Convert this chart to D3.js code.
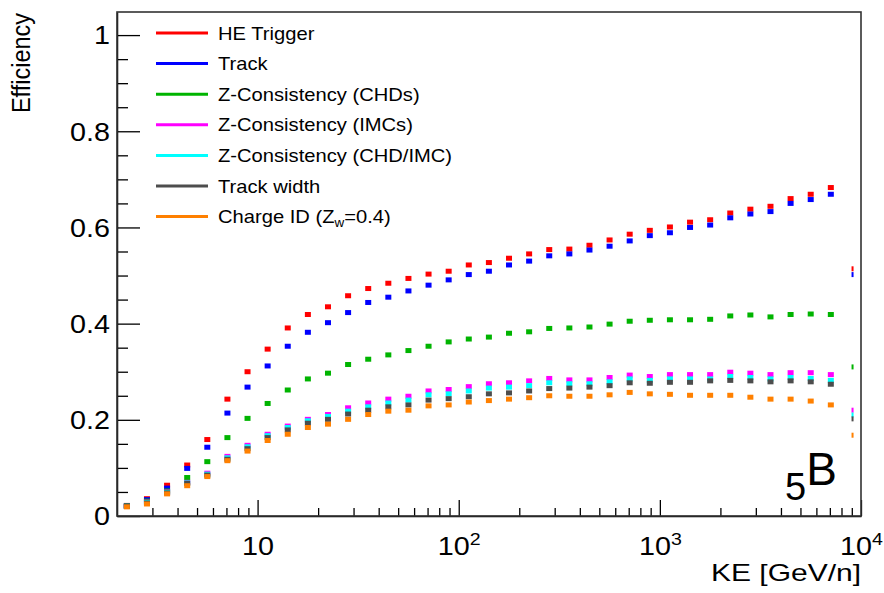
<!DOCTYPE html>
<html><head><meta charset="utf-8">
<script src="https://cdn.jsdelivr.net/npm/d3@7"></script>
<style>body{margin:0;background:#fff}svg{display:block}text{font-family:"Liberation Sans",Arial,Helvetica,sans-serif;fill:#000}</style>
</head><body><svg id="c" width="884" height="593"></svg>
<script>
// bin centres, log10(KE [GeV/n])
const logKE = [0.35,0.45,0.55,0.65,0.75,0.85,0.95,1.05,1.15,1.25,1.35,1.45,1.55,1.65,1.75,1.85,1.95,2.05,2.15,2.25,2.35,2.45,2.55,2.65,2.75,2.85,2.95,3.05,3.15,3.25,3.35,3.45,3.55,3.65,3.75,3.85,3.95];

const heTrigger = [0.022,0.036,0.064,0.106,0.159,0.243,0.300,0.347,0.391,0.419,0.435,0.458,0.473,0.484,0.494,0.503,0.509,0.522,0.527,0.536,0.545,0.554,0.555,0.563,0.574,0.586,0.594,0.601,0.611,0.616,0.630,0.638,0.644,0.660,0.669,0.683,0.514];
const track = [0.021,0.034,0.058,0.099,0.143,0.214,0.268,0.312,0.353,0.382,0.402,0.423,0.444,0.455,0.468,0.480,0.491,0.502,0.509,0.522,0.530,0.541,0.545,0.553,0.561,0.572,0.583,0.589,0.600,0.605,0.620,0.628,0.633,0.650,0.658,0.669,0.502];
const zConsCHD = [0.021,0.031,0.052,0.080,0.113,0.163,0.203,0.234,0.262,0.285,0.297,0.315,0.326,0.335,0.344,0.353,0.362,0.368,0.372,0.380,0.383,0.390,0.391,0.393,0.399,0.405,0.407,0.408,0.408,0.409,0.416,0.418,0.414,0.419,0.420,0.419,0.310];
const zConsIMC = [0.020,0.029,0.050,0.070,0.089,0.124,0.147,0.170,0.187,0.201,0.211,0.225,0.235,0.243,0.249,0.260,0.263,0.269,0.275,0.277,0.281,0.286,0.283,0.283,0.288,0.293,0.290,0.294,0.294,0.294,0.299,0.297,0.294,0.298,0.298,0.294,0.220];
const zConsCHDIMC = [0.020,0.028,0.049,0.069,0.087,0.121,0.144,0.167,0.184,0.198,0.207,0.218,0.227,0.235,0.241,0.252,0.254,0.260,0.266,0.268,0.271,0.277,0.275,0.275,0.279,0.285,0.282,0.285,0.285,0.285,0.290,0.288,0.285,0.288,0.286,0.282,0.210];
const trackWidth = [0.020,0.027,0.048,0.068,0.085,0.118,0.140,0.163,0.179,0.193,0.201,0.212,0.220,0.227,0.231,0.241,0.244,0.248,0.254,0.256,0.260,0.265,0.266,0.268,0.271,0.277,0.276,0.278,0.278,0.281,0.282,0.281,0.279,0.281,0.279,0.274,0.202];
const chargeID = [0.019,0.025,0.046,0.063,0.082,0.115,0.135,0.157,0.170,0.184,0.191,0.201,0.211,0.218,0.220,0.229,0.231,0.237,0.240,0.243,0.246,0.250,0.249,0.249,0.252,0.257,0.254,0.253,0.251,0.251,0.251,0.247,0.243,0.243,0.239,0.231,0.168];

const seriesNames = ["HE Trigger","Track","Z-Consistency (CHDs)","Z-Consistency (IMCs)","Z-Consistency (CHD/IMC)","Track width","Charge ID"];
const seriesColors = ["#ff0000","#0000ff","#00b400","#ff00ff","#00ffff","#4d4d4d","#ff8000"];
const seriesValues = [heTrigger, track, zConsCHD, zConsIMC, zConsCHDIMC, trackWidth, chargeID];

const yMajorTicks = [0,0.2,0.4,0.6,0.8,1];
const yTickLabels = ["0","0.2","0.4","0.6","0.8","1"];
const xMajorTicks = [10,100,1000,10000];
const xTickExponents = ["","2","3","4"];
const xTitle = "KE [GeV/n]";
const yTitle = "Efficiency";

const W = 884, H = 593;
const L = 117, R = 861, T = 12, B = 516;
const svg = d3.select("#c");
const xs = d3.scaleLog().domain([2, 1e4]).range([L, R]);
const ys = d3.scaleLinear().domain([0, 1.048]).range([B, T]);

// clip
svg.append("defs").append("clipPath").attr("id","clip")
  .append("rect").attr("x",L).attr("y",T).attr("width",R-L).attr("height",B-T);

// markers
const mw = 6, mh = 5;
const plot = svg.append("g").attr("clip-path","url(#clip)");
seriesValues.forEach((vals, si) => {
  const g = plot.append("g");
  vals.forEach((v, i) => {
    const cx = xs(Math.pow(10, logKE[i])), cy = ys(v);
    const last = i === vals.length - 1;
    g.append("rect")
      .attr("x", last ? cx + 0.6 : cx - mw/2)
      .attr("y", cy - mh/2)
      .attr("width", last ? 2 : mw)
      .attr("height", mh)
      .attr("fill", seriesColors[si]);
  });
});

// axes
const yMinor = d3.range(1, 22).map(k => k*0.05).filter(v => Math.abs(v*5 - Math.round(v*5)) > 1e-6 && v <= 1.048);
const gy = svg.append("g").attr("transform", `translate(${L},0)`);
gy.call(d3.axisLeft(ys).tickValues(yMajorTicks).tickSize(-23).tickSizeOuter(0).tickFormat(""));
gy.append("g").call(d3.axisLeft(ys).tickValues(yMinor).tickSize(-11).tickSizeOuter(0).tickFormat(""))
  .select(".domain").remove();
gy.selectAll(".tick").each(function(d){
  const i = yMajorTicks.indexOf(d);
  if (i < 0) return;
  d3.select(this).append("text")
    .attr("transform","translate(-7,0) scale(1.15,1)")
    .attr("dy","0.35em").attr("text-anchor","end")
    .attr("font-size",25).text(yTickLabels[i]);
});

const xMinor = [];
[1,10,100,1000].forEach(dec => d3.range(2,10).forEach(m => { const v = m*dec; if (v > 2 && v < 1e4) xMinor.push(v); }));
const gx = svg.append("g").attr("transform", `translate(0,${B})`);
gx.call(d3.axisBottom(xs).tickValues(xMajorTicks).tickSize(-16).tickSizeOuter(0).tickFormat(""));
gx.append("g").call(d3.axisBottom(xs).tickValues(xMinor).tickSize(-8).tickSizeOuter(0).tickFormat(""))
  .select(".domain").remove();
gx.selectAll(".tick").each(function(d){
  const i = xMajorTicks.indexOf(d);
  if (i < 0) return;
  const t = d3.select(this).append("text")
    .attr("transform","translate(0,39) scale(1.15,1)")
    .attr("text-anchor","middle").attr("font-size",25);
  t.append("tspan").text("10");
  if (xTickExponents[i]) t.append("tspan").attr("font-size",17).attr("dy",-10).text(xTickExponents[i]);
});
svg.selectAll(".tick line").attr("stroke","#000").attr("stroke-width",1.3);
svg.selectAll(".domain").attr("stroke","#000").attr("stroke-width",1.5);

// frame
svg.append("rect").attr("x",L).attr("y",T).attr("width",R-L).attr("height",B-T)
  .attr("fill","none").attr("stroke","#333").attr("stroke-width",1.6);

// titles
svg.append("text").attr("transform",`translate(${R},581) scale(1.25,1)`)
  .attr("text-anchor","end").attr("font-size",24).text(xTitle);
svg.append("text").attr("transform",`translate(30,${T+1}) scale(1.12,1) rotate(-90)`)
  .attr("text-anchor","end").attr("font-size",23.5).text(yTitle);

// legend
const legY0 = 33, legDy = 30.6;
const leg = svg.append("g");
seriesNames.forEach((n, i) => {
  const y = legY0 + i*legDy;
  leg.append("line").attr("x1",156).attr("x2",208).attr("y1",y).attr("y2",y)
    .attr("stroke",seriesColors[i]).attr("stroke-width",3);
  const t = leg.append("text").attr("transform",`translate(218,${y+6.5}) scale(1.12,1)`).attr("font-size",18);
  if (i === seriesNames.length - 1) {
    t.append("tspan").text(n + " (Z");
    t.append("tspan").attr("font-size",12).attr("dy",4).text("w");
    t.append("tspan").attr("dy",-4).text("=0.4)");
  } else t.text(n);
});

// nucleus label
const nl = svg.append("text").attr("x",785).attr("y",500);
nl.append("tspan").attr("font-size",38).text("5");
nl.append("tspan").attr("font-size",46).attr("dy",-15).text("B");
</script></body></html>
